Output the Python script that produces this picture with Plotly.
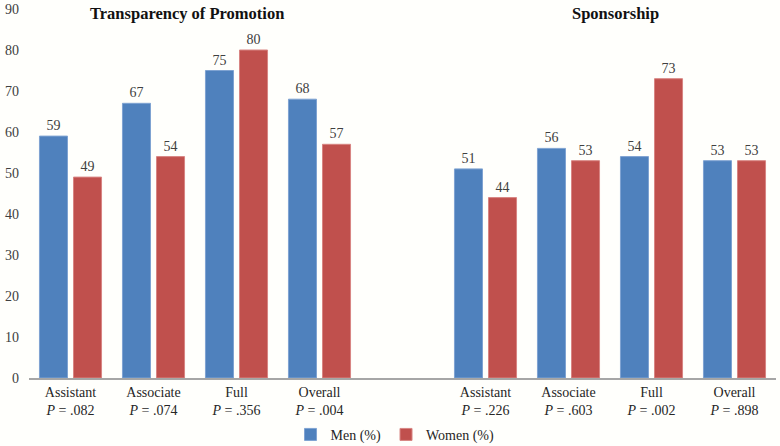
import plotly.graph_objects as go

categories = ["Assistant", "Associate", "Full", "Overall"]
p_transparency = [".082", ".074", ".356", ".004"]
p_sponsorship = [".226", ".603", ".002", ".898"]
men_transparency = [59, 67, 75, 68]
women_transparency = [49, 54, 80, 57]
men_sponsorship = [51, 56, 54, 53]
women_sponsorship = [44, 53, 73, 53]
panel_titles = ["Transparency of Promotion", "Sponsorship"]

n = len(categories)
x_left = list(range(n))
x_right = [n + 1 + i for i in range(n)]
xs = x_left + x_right
men = men_transparency + men_sponsorship
women = women_transparency + women_sponsorship
pvals = p_transparency + p_sponsorship
ticktext = [f"{c}<br><i>P</i> = {p}" for c, p in zip(categories * 2, pvals)]

BLUE = "#4F81BD"
RED = "#C0504D"
FONT = "Liberation Serif"

fig = go.Figure()
fig.add_trace(go.Bar(
    x=xs, y=men, name="Men (%)",
    marker=dict(color=BLUE, line=dict(color="#7FA3D2", width=1)),
    text=[str(v) for v in men], textposition="outside",
    textfont=dict(family=FONT, size=14, color="#404040"),
    cliponaxis=False,
))
fig.add_trace(go.Bar(
    x=xs, y=women, name="Women (%)",
    marker=dict(color=RED, line=dict(color="#D88583", width=1)),
    text=[str(v) for v in women], textposition="outside",
    textfont=dict(family=FONT, size=14, color="#404040"),
    cliponaxis=False,
))

fig.update_layout(
    width=780, height=446,
    margin=dict(l=29, r=4, t=9, b=68, autoexpand=False),
    paper_bgcolor="#FFFFFC", plot_bgcolor="#FFFFFC",
    barmode="group", bargap=0.18, bargroupgap=0.176,
    font=dict(family=FONT, size=14, color="#262626"),
    showlegend=True,
    legend=dict(orientation="h", x=0.49, xanchor="center", y=-0.154, yanchor="middle",
                font=dict(family=FONT, size=14, color="#262626"),
                itemwidth=30, tracegroupgap=0,
                bgcolor="rgba(0,0,0,0)"),
    xaxis=dict(
        range=[-0.5, 2 * n + 0.5], automargin=False,
        tickmode="array", tickvals=xs, ticktext=ticktext,
        showgrid=False, zeroline=False, showline=True, linecolor="#A6A6A6", linewidth=1.5,
        ticks="", tickfont=dict(family=FONT, size=14, color="#262626"),
    ),
    yaxis=dict(
        range=[0, 90], dtick=10, showgrid=False, zeroline=False, showline=False,
        ticks="", ticklabelstandoff=9, automargin=False,
        tickfont=dict(family=FONT, size=14, color="#404040"),
    ),
    annotations=[
        dict(text=f"<b>{panel_titles[0]}</b>", x=0.2115, y=0.989, xref="paper", yref="paper",
             xanchor="center", yanchor="middle",
             showarrow=False, font=dict(family=FONT, size=16.5, color="#111111")),
        dict(text=f"<b>{panel_titles[1]}</b>", x=0.7858, y=0.989, xref="paper", yref="paper",
             xanchor="center", yanchor="middle",
             showarrow=False, font=dict(family=FONT, size=16.5, color="#111111")),
    ],
)

fig.write_html("out.html", config={"displayModeBar": False},
               post_script="document.body.style.margin='0px';")
